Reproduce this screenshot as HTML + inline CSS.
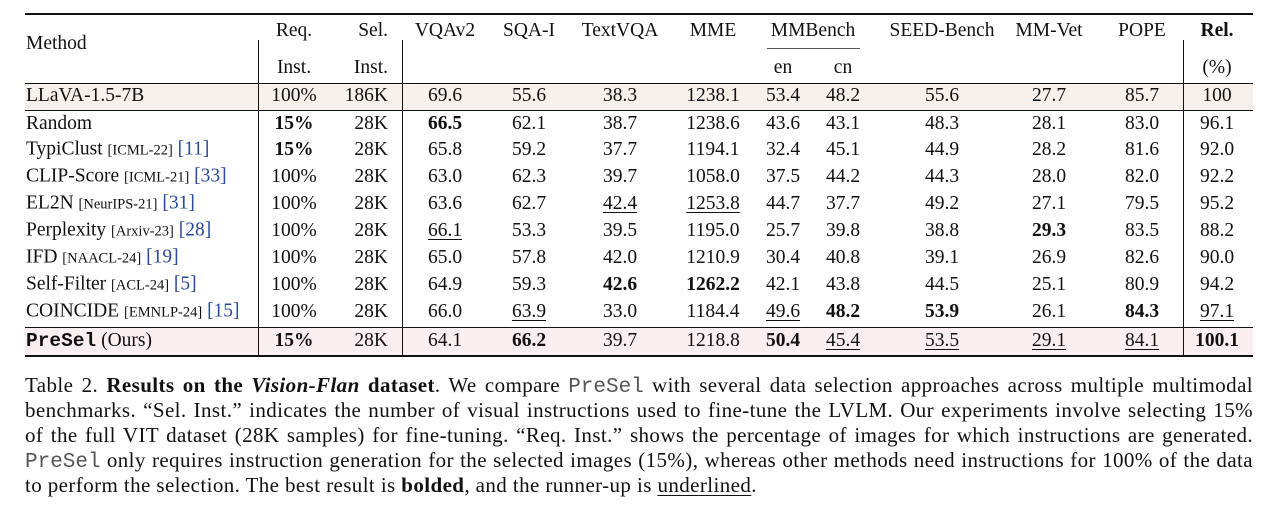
<!DOCTYPE html>
<html><head><meta charset="utf-8">
<style>
body{margin:0;width:1261px;height:517px;background:#fff;position:relative;overflow:hidden;font-family:"Liberation Serif",serif;color:#111;}
.ab{position:absolute;}
.hl{position:absolute;left:25px;width:1228px;background:#111;}
.vl{position:absolute;width:1px;background:#111;}
.c,.r,.l{position:absolute;font-size:19.5px;line-height:22px;white-space:nowrap;}
.c{transform:translate(-50%,-50%);}
.r{transform:translate(-100%,-50%);}
.l{transform:translate(0,-50%);}
.b{font-weight:bold;}
.u{text-decoration:underline;text-underline-offset:3px;text-decoration-thickness:1px;}
.ven{font-size:14.5px;}
.cit{color:#2b4a9a;}
.mono{font-family:"Liberation Mono",monospace;}
.cap{position:absolute;left:25px;width:1228px;font-size:21px;letter-spacing:0.4px;line-height:25px;white-space:nowrap;text-align:justify;text-align-last:justify;}
.cap .mono{color:#555;font-size:21px;letter-spacing:0;}
</style></head><body>
<div class="ab" style="left:0;top:0;width:1261px;height:360px;">
<div class="ab" style="left:25px;top:84px;width:1228px;height:26px;background:#f8f0ea;"></div>
<div class="ab" style="left:25px;top:328px;width:1228px;height:27px;background:#fbeef1;"></div>
<div class="hl" style="top:13px;height:2px;"></div>
<div class="hl" style="top:83px;height:1px;"></div>
<div class="hl" style="top:110px;height:1px;"></div>
<div class="hl" style="top:327px;height:1px;"></div>
<div class="hl" style="top:355px;height:2px;"></div>
<div class="vl" style="left:258px;top:40px;height:317px;"></div>
<div class="vl" style="left:402px;top:40px;height:317px;"></div>
<div class="vl" style="left:1183px;top:40px;height:317px;"></div>
<div class="ab" style="left:767px;top:48px;width:93px;height:1px;background:#555;"></div>
<div id="cells"></div>
</div>
<div class="ab" style="left:0;top:373px;width:1261px;height:140px;">
<div class="cap" style="top:0px;">Table 2. <b>Results on the <i>Vision-Flan</i> dataset</b>. We compare <span class="mono">PreSel</span> with several data selection approaches across multiple multimodal</div>
<div class="cap" style="top:25px;">benchmarks. “Sel. Inst.” indicates the number of visual instructions used to fine-tune the LVLM. Our experiments involve selecting 15%</div>
<div class="cap" style="top:50px;">of the full VIT dataset (28K samples) for fine-tuning. “Req. Inst.” shows the percentage of images for which instructions are generated.</div>
<div class="cap" style="top:75px;"><span class="mono">PreSel</span> only requires instruction generation for the selected images (15%), whereas other methods need instructions for 100% of the data</div>
<div class="cap" style="top:100px;text-align-last:left;">to perform the selection. The best result is <b>bolded</b>, and the runner-up is <span class="u">underlined</span>.</div>
</div>
<script>
const colX=[294,388,445,529,620,713,783,843,942,1049,1142,1217];
const rowY=[96,124,150,177,204,231,258,285,312,341];
const methods=["LLaVA-1.5-7B","Random","TypiClust","CLIP-Score","EL2N","Perplexity","IFD","Self-Filter","COINCIDE","PreSel"];
const venues=["","","[ICML-22]","[ICML-21]","[NeurIPS-21]","[Arxiv-23]","[NAACL-24]","[ACL-24]","[EMNLP-24]",""];
const cites=["","","[11]","[33]","[31]","[28]","[19]","[5]","[15]",""];
const values=[
["100%","186K","69.6","55.6","38.3","1238.1","53.4","48.2","55.6","27.7","85.7","100"],
["*15%","28K","*66.5","62.1","38.7","1238.6","43.6","43.1","48.3","28.1","83.0","96.1"],
["*15%","28K","65.8","59.2","37.7","1194.1","32.4","45.1","44.9","28.2","81.6","92.0"],
["100%","28K","63.0","62.3","39.7","1058.0","37.5","44.2","44.3","28.0","82.0","92.2"],
["100%","28K","63.6","62.7","_42.4","_1253.8","44.7","37.7","49.2","27.1","79.5","95.2"],
["100%","28K","_66.1","53.3","39.5","1195.0","25.7","39.8","38.8","*29.3","83.5","88.2"],
["100%","28K","65.0","57.8","42.0","1210.9","30.4","40.8","39.1","26.9","82.6","90.0"],
["100%","28K","64.9","59.3","*42.6","*1262.2","42.1","43.8","44.5","25.1","80.9","94.2"],
["100%","28K","66.0","_63.9","33.0","1184.4","_49.6","*48.2","*53.9","26.1","*84.3","_97.1"],
["*15%","28K","64.1","*66.2","39.7","1218.8","*50.4","_45.4","_53.5","_29.1","_84.1","*100.1"]];
const hdr1=["Req.","Sel.","VQAv2","SQA-I","TextVQA","MME","MMBench","","SEED-Bench","MM-Vet","POPE","*Rel."];
const hdr2=["Inst.","Inst.","","","","","en","cn","","","","(%)"];
const root=document.getElementById('cells');
function cell(cls,x,y,html){
  const d=document.createElement('div');
  d.className=cls;d.style.left=x+'px';d.style.top=y+'px';d.innerHTML=html;
  root.appendChild(d);return d;
}
function fmt(v){
  if(v[0]==='*')return '<span class="b">'+v.slice(1)+'</span>';
  if(v[0]==='_')return '<span class="u">'+v.slice(1)+'</span>';
  return v;
}
let m=cell('l',26,44,'Method');


hdr1.forEach((h,i)=>{
  if(!h)return;
  let x=colX[i];if(i===6)x=813;
  const e=cell(i===1?'r':'c',x,31,fmt(h));
  
  
});
hdr2.forEach((h,i)=>{
  if(!h)return;
  const e=cell(i===1?'r':'c',colX[i],68,h);
  
  
});
methods.forEach((mname,r)=>{
  let html=mname;
  if(r===9)html='<span class="mono b" style="font-size:19.5px">PreSel</span> (Ours)';
  if(venues[r])html+=' <span class="ven">'+venues[r]+'</span> <span class="cit">'+cites[r]+'</span>';
  const e=cell('l',26,rowY[r],html);
  
  
  values[r].forEach((v,i)=>{
    const c=cell(i===1?'r':'c',colX[i],rowY[r],fmt(v));
    
    
  });
});
</script>
</body></html>
